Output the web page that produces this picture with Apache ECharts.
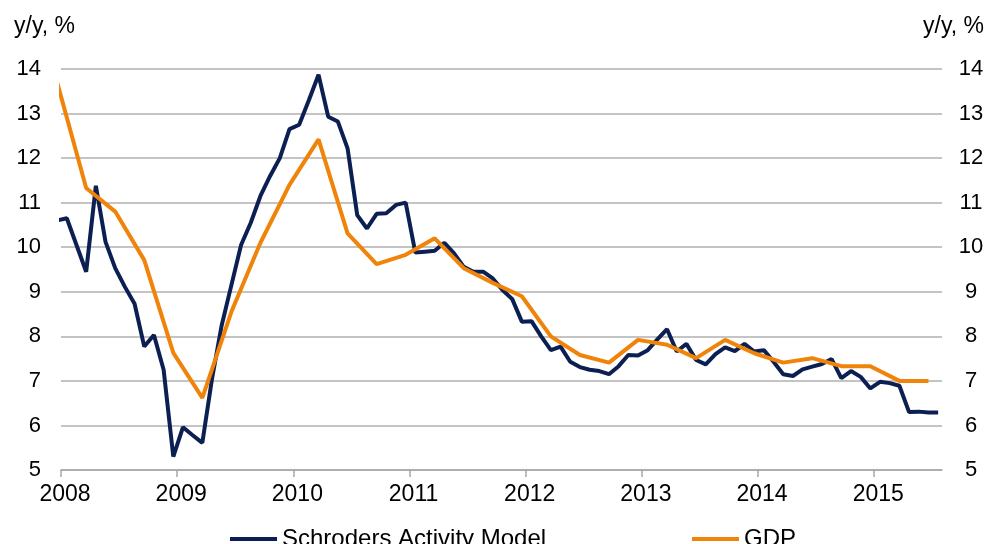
<!DOCTYPE html>
<html>
<head>
<meta charset="utf-8">
<script src="https://cdn.jsdelivr.net/npm/echarts@6/dist/echarts.min.js"></script>
<style>
  html, body { margin: 0; padding: 0; background: #fff; }
  #chart { width: 994px; height: 544px; }
</style>
</head>
<body>
<div id="chart"></div>
<script>
// monthly, Dec 2007 .. Jul 2015
const activity = [
  10.6,
  10.65, 10.05, 9.45, 11.38, 10.12, 9.53, 9.11, 8.73, 7.77, 8.03, 7.25, 5.30,
  5.96, 5.78, 5.61, 7.05, 8.25, 9.15, 10.05, 10.55, 11.15, 11.6, 12.0, 12.65,
  12.75, 13.3, 13.87, 12.93, 12.82, 12.22, 10.72, 10.42, 10.75, 10.76, 10.95, 11.0,
  9.88, 9.9, 9.92, 10.1, 9.86, 9.56, 9.45, 9.45, 9.30, 9.04, 8.84, 8.33,
  8.34, 8.0, 7.69, 7.77, 7.43, 7.31, 7.25, 7.22, 7.15, 7.33, 7.58, 7.57,
  7.69, 7.93, 8.16, 7.66, 7.83, 7.47, 7.37, 7.60, 7.75, 7.67, 7.83, 7.66,
  7.69, 7.43, 7.15, 7.11, 7.26, 7.32, 7.38, 7.49, 7.06, 7.22, 7.09, 6.83,
  6.98, 6.95, 6.89, 6.30, 6.31, 6.29, 6.29
];
// quarterly, Q4 2007 .. Q2 2015
const gdp = [
  13.7,
  11.33, 10.8, 9.71, 7.63,
  6.62, 8.55, 10.1, 11.4,
  12.42, 10.31, 9.62, 9.83,
  10.2, 9.53, 9.2, 8.9,
  8.0, 7.58, 7.41, 7.92,
  7.81, 7.51, 7.92, 7.62,
  7.41, 7.51, 7.33, 7.33,
  7.0, 7.0
];
const yearTicks = [2008, 2009, 2010, 2011, 2012, 2013, 2014, 2015];

// month index 0 = Dec 2007; points sit a little past the start of their month
const monthPos = i => 2008 + (i - 1 + 0.6) / 12;

const activityData = activity.map((v, i) => [monthPos(i), v]);
const gdpData = gdp.map((v, i) => [monthPos(i * 3), v]);

const font = 'Liberation Sans, Arial, sans-serif';
const navy = '#0b1f52';
const orange = '#f0840a';

const chart = echarts.init(document.getElementById('chart'));
chart.setOption({
  animation: false,
  textStyle: { fontFamily: font },
  grid: { left: 61, right: 52, top: 69, bottom: 74 },
  graphic: [
    { type: 'text', left: 14, top: 15, style: { text: 'y/y, %', font: '23px ' + font, fill: '#000' } },
    { type: 'text', right: 10, top: 15, style: { text: 'y/y, %', font: '23px ' + font, fill: '#000' } }
  ],
  legend: [
    {
      left: 225, top: 522, icon: 'rect', itemWidth: 47, itemHeight: 4, itemGap: 10,
      data: ['Schroders Activity Model'],
      textStyle: { fontSize: 24, color: '#000', fontFamily: font }
    },
    {
      left: 687, top: 522, icon: 'rect', itemWidth: 47, itemHeight: 4,
      data: ['GDP'],
      textStyle: { fontSize: 24, color: '#000', fontFamily: font }
    }
  ],
  xAxis: {
    type: 'value',
    min: 2008,
    max: 2008 + 91 / 12,
    axisLine: { show: true, lineStyle: { color: '#a6a6a6', width: 1.5 } },
    axisTick: { show: true, length: 7, customValues: yearTicks, lineStyle: { color: '#a6a6a6', width: 1.5 } },
    axisLabel: {
      customValues: yearTicks, formatter: v => String(v), margin: 13,
      fontSize: 23, color: '#000', fontFamily: font, padding: [0, 0, 0, 8]
    },
    splitLine: { show: false }
  },
  yAxis: [
    {
      type: 'value', min: 5, max: 14, interval: 1,
      axisLine: { show: false }, axisTick: { show: false },
      axisLabel: { margin: 20, fontSize: 22, color: '#000', fontFamily: font },
      splitLine: { lineStyle: { color: '#b0b0b0', width: 1.5 } }
    },
    {
      type: 'value', min: 5, max: 14, interval: 1, position: 'right',
      axisLine: { show: false }, axisTick: { show: false },
      axisLabel: { margin: 29, align: 'center', fontSize: 22, color: '#000', fontFamily: font },
      splitLine: { show: false }
    }
  ],
  series: [
    {
      name: 'Schroders Activity Model', type: 'line', data: activityData,
      showSymbol: false, clip: true, color: navy,
      lineStyle: { color: navy, width: 4 }
    },
    {
      name: 'GDP', type: 'line', data: gdpData,
      showSymbol: false, clip: true, color: orange,
      lineStyle: { color: orange, width: 4 }
    }
  ]
});
</script>
</body>
</html>
